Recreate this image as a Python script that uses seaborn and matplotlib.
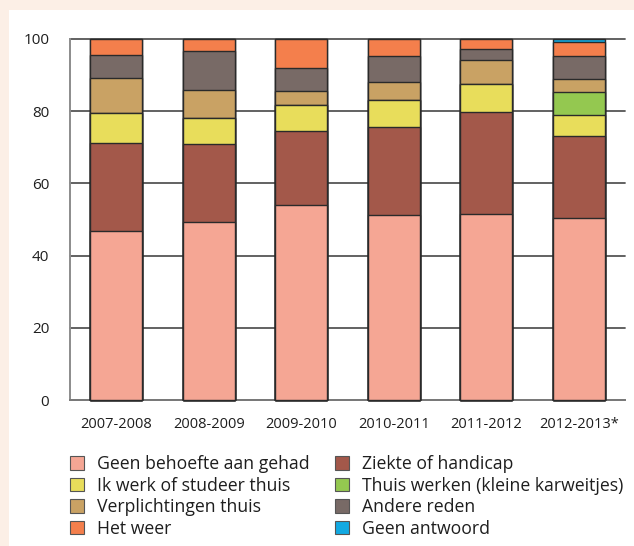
import numpy as np
import pandas as pd
import matplotlib
matplotlib.use("Agg")
import matplotlib.pyplot as plt
import seaborn as sns
from matplotlib.patches import Patch, Rectangle

years = ["2007-2008", "2008-2009", "2009-2010", "2010-2011", "2011-2012", "2012-2013*"]
geen_behoefte = [46.8, 49.4, 54.1, 51.2, 51.6, 50.3]
ziekte = [24.4, 21.4, 20.3, 24.5, 28.1, 22.9]
ik_werk = [8.2, 7.2, 7.3, 7.3, 7.7, 5.7]
thuis_werken = [0.0, 0.0, 0.0, 0.0, 0.0, 6.4]
verplichtingen = [9.9, 7.9, 3.8, 5.2, 6.7, 3.7]
andere = [6.2, 10.9, 6.6, 7.1, 3.1, 6.3]
weer = [4.5, 3.2, 7.9, 4.7, 2.8, 3.8]
geen_antwoord = [0.0, 0.0, 0.0, 0.0, 0.0, 0.9]

series_names = ["Geen behoefte aan gehad", "Ziekte of handicap", "Ik werk of studeer thuis",
                "Thuis werken (kleine karweitjes)", "Verplichtingen thuis", "Andere reden",
                "Het weer", "Geen antwoord"]
series_vals = [geen_behoefte, ziekte, ik_werk, thuis_werken, verplichtingen, andere, weer, geen_antwoord]
colors = ["#f5a694", "#a3584a", "#e8dd5b", "#94c850", "#c9a264", "#786a66", "#f47f4c", "#12a9e2"]

sns.set_style("white")
plt.rcParams["font.family"] = ["Open Sans", "DejaVu Sans"]
plt.rcParams["text.color"] = "#1e1e1e"

fig = plt.figure(figsize=(6.34, 5.46), dpi=100, facecolor="#fcefe6")
fig.patches.append(Rectangle((9 / 634, 0), 1, 1 - 10 / 546, transform=fig.transFigure,
                             facecolor="white", edgecolor="none", zorder=-10))
ax = fig.add_axes([70 / 634, 1 - 400 / 546, 555 / 634, 361 / 546])
ax.set_facecolor("white")

df = pd.DataFrame({n: v for n, v in zip(series_names, series_vals)}, index=years)
cum = df.cumsum(axis=1)

for name, col in reversed(list(zip(series_names, colors))):
    sns.barplot(x=years, y=cum[name].values, order=years, color=col, saturation=1,
                width=0.565, edgecolor="#2a2a2a", linewidth=1.0, ax=ax, zorder=3)

for p in ax.patches:
    p.set_clip_on(False)

ax.set_xlim(-0.5, 5.5)
ax.set_ylim(0, 100)
ax.set_yticks([0, 20, 40, 60, 80, 100])
ax.yaxis.grid(True, color="#555555", linewidth=1.3)
for gl in ax.get_ygridlines():
    gl.set_clip_on(False)
ax.set_axisbelow(True)
ax.set_xlabel("")
ax.set_ylabel("")
ax.tick_params(axis="y", length=0, pad=15, labelsize=11, labelcolor="#1e1e1e")
ax.tick_params(axis="x", which="major", length=0, pad=12, labelsize=10.5, labelcolor="#1e1e1e")
ax.set_xticks(np.arange(0.5, 6, 1), minor=True)
ax.tick_params(axis="x", which="minor", direction="in", length=7, width=1.2, color="#666666")
for s in ["top", "right"]:
    ax.spines[s].set_visible(False)
ax.spines["left"].set_color("#8c8c8c")
ax.spines["left"].set_linewidth(1.4)
ax.spines["bottom"].set_color("#7a7a7a")
ax.spines["bottom"].set_linewidth(1.4)

legend_order = [0, 2, 4, 6, 1, 3, 5, 7]
handles = [Patch(facecolor=colors[i], edgecolor="#555555", linewidth=0.8) for i in legend_order]
labels = [series_names[i] for i in legend_order]
fig.legend(handles, labels, ncol=2, loc="upper left", bbox_to_anchor=(70 / 634, 1 - 455 / 546),
           frameon=False, fontsize=12.7, handlelength=0.8, handleheight=0.8,
           handletextpad=0.75, labelspacing=0.2, columnspacing=1.4, borderpad=0, borderaxespad=0)

fig.savefig("out.png", dpi=100, facecolor=fig.get_facecolor())
